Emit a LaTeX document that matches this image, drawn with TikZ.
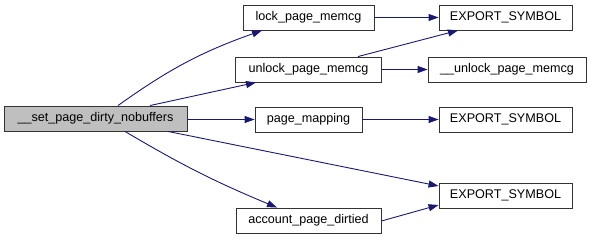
\documentclass[tikz,border=0pt]{standalone}
\usepackage{fontspec}
\setmainfont{Liberation Sans}
\usetikzlibrary{arrows.meta}
\begin{document}
\begin{tikzpicture}[x=1pt,y=-1pt,
  fn/.style={draw=black!80, line width=0.9pt, fill=white, minimum height=25pt,
    inner sep=0pt, font=\fontsize{12.6}{14}\selectfont, text=black},
  focus/.style={fn, fill=black!25},
  call/.style={draw=midnightblue, line width=0.9pt,
    -{Triangle[length=10pt,width=7pt]}},
]
\definecolor{midnightblue}{HTML}{191970}
\useasboundingbox (0,0) rectangle (593,240);

% callers and callees, left to right
\node[focus, minimum width=183pt] (root) at (95.5,118.5) {\_\_set\_page\_dirty\_nobuffers};
\node[fn, minimum width=131pt] (lock)    at (308.5,17.5)  {lock\_page\_memcg};
\node[fn, minimum width=146pt] (unlock)  at (308.5,69.5)  {unlock\_page\_memcg};
\node[fn, minimum width=107pt] (mapping) at (308.5,119.5) {page\_mapping};
\node[fn, minimum width=145pt] (account) at (308.5,220.5) {account\_page\_dirtied};
\node[fn, minimum width=133pt] (exA) at (505.5,17.5)  {EXPORT\_SYMBOL};
\node[fn, minimum width=158pt] (ulk) at (507,69.5)    {\_\_unlock\_page\_memcg};
\node[fn, minimum width=133pt] (exB) at (505.5,119.5) {EXPORT\_SYMBOL};
\node[fn, minimum width=133pt] (exC) at (505.5,195.5) {EXPORT\_SYMBOL};

% call edges
\draw[call] (root.north -| 118,0) to[bend left=8] (lock.south -| 262,0);
\draw[call] (root.north -| 150,0) -- (unlock.south -| 256,0);
\draw[call] (root.east |- mapping.west) -- (mapping.west);
\draw[call] (root.south -| 168,0) -- (exC.west |- 0,186);
\draw[call] (root.south -| 125,0) to[bend left=-4] (account.north -| 277,0);
\draw[call] (lock.east) -- (exA.west);
\draw[call] (unlock.north -| 358,0) -- (exA.south -| 458,0);
\draw[call] (unlock.east) -- (ulk.west);
\draw[call] (mapping.east) -- (exB.west);
\draw[call] (account.east |- 0,221) -- (exC.west |- 0,205);
\end{tikzpicture}
\end{document}
